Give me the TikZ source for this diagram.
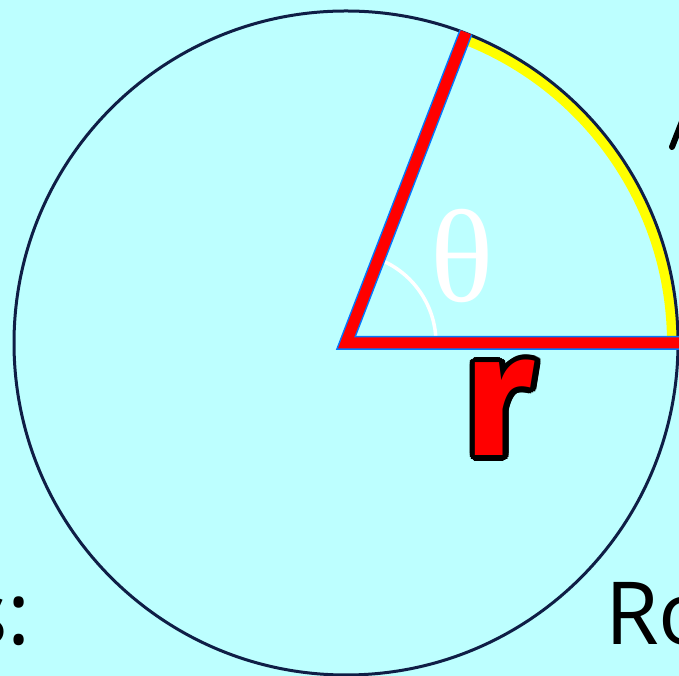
\documentclass[tikz,border=0pt]{standalone}
\usepackage{fontspec}
\setmainfont{Open Sans}
\newfontfamily\greekfont{Liberation Serif}
\newfontfamily\rfont{Fira Sans}
\definecolor{bgcyan}{RGB}{189,255,255}
\definecolor{fringe}{RGB}{0,120,255}
\definecolor{rimcol}{RGB}{15,30,70}
\definecolor{arcyellow}{RGB}{255,255,0}
\definecolor{radred}{RGB}{255,0,0}
\tikzset{
  rim/.style={draw=rimcol, line width=3pt},
  yellowarc/.style={draw=arcyellow, line width=10pt},
  radfringe/.style={draw=fringe, line width=14pt, miter limit=10},
  radline/.style={draw=radred, line width=11pt, miter limit=10},
  anglearc/.style={draw=white, line width=3.5pt},
  bigtext/.style={font=\fontsize{87}{87}\selectfont, inner sep=0pt},
  rletter/.style={font=\rfont\bfseries\fontsize{175}{175}\selectfont, inner sep=0pt},
}
\begin{document}
\begin{tikzpicture}[x=1pt,y=1pt]
\useasboundingbox (0,0) rectangle (679,676);
\clip (0,0) rectangle (679,676);
\fill[bgcyan] (0,0) rectangle (679,676);
\coordinate (O) at (346,333);
\coordinate (T) at ([shift={(68.9:333)}]O);
\coordinate (E) at (690,333);
% yellow arc
\draw[yellowarc] ([shift={(0:326)}]O) arc[start angle=0, end angle=68.6, radius=326];
% circle
\draw[rim] (O) circle[radius=332];
% angle arc
\draw[anglearc] ([shift={(0:90)}]O) arc[start angle=0, end angle=66, radius=90];
% radii
\draw[radfringe] (T) -- (O) -- (E);
\draw[radline] (T) -- (O) -- (E);
% theta
\node[text=white, font=\greekfont\fontsize{132}{132}\selectfont, inner sep=0pt] (theta) at (462,420) {θ};
% r with outline
\coordinate (rpos) at (500,268);
\foreach \a in {0,20,...,340}{
  \node[rletter, text=black] at ([shift={(\a:5.5)}]rpos) {r};
}
\node[rletter, text=radred] (rlabel) at (rpos) {r};
% side texts
\node[bigtext, anchor=base west] (ro) at (605,31) {Ro};
\node[bigtext, anchor=base east] (scolon) at (31,31) {s:};
% cut-off stroke top right
\coordinate (tk1) at (672,529);
\coordinate (tk2) at (683,557);
\draw[line width=6pt, line cap=round] (tk1) -- (tk2);
\end{tikzpicture}
\end{document}
